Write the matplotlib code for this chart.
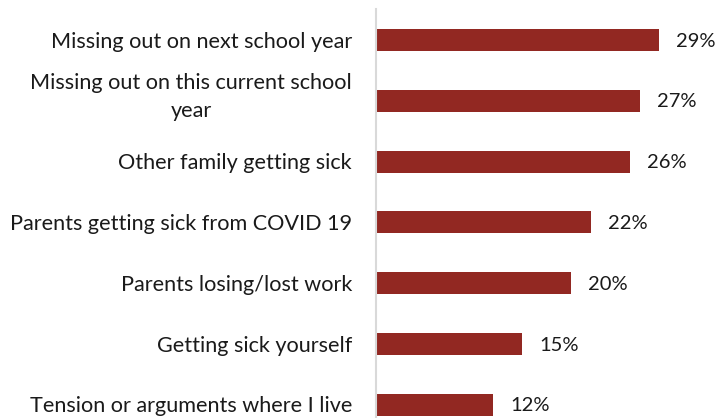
import matplotlib
matplotlib.use("Agg")
import matplotlib.pyplot as plt

categories = [
    "Missing out on next school year",
    "Missing out on this current school\nyear",
    "Other family getting sick",
    "Parents getting sick from COVID 19",
    "Parents losing/lost work",
    "Getting sick yourself",
    "Tension or arguments where I live",
]
values = [29, 27, 26, 22, 20, 15, 12]
value_labels = ["29%", "27%", "26%", "22%", "20%", "15%", "12%"]

plt.rcParams['font.family'] = ['Lato', 'DejaVu Sans']
W, H = 723, 418
fig = plt.figure(figsize=(W / 100, H / 100), dpi=100)
left_px, right_px = 376, 723
top_px, bottom_px = 9, 418
ax = fig.add_axes([left_px / W, 1 - bottom_px / H, (right_px - left_px) / W, (bottom_px - top_px) / H])

bar_color = "#922822"
ypos = list(range(len(categories)))
ax.barh(ypos, values, height=0.36, color=bar_color)
ax.set_xlim(0, (right_px - left_px) / 9.76)
ax.set_ylim(6.217, -0.51)

fs = 15.6
for y, v, lab in zip(ypos, values, value_labels):
    ax.annotate(lab, xy=(v, y), xytext=(17, -1), textcoords="offset pixels",
                ha="left", va="center", fontsize=14.5, color="#1a1a1a")
for y, cat in zip(ypos, categories):
    dy = 4 if "\n" in cat else -1.5
    ax.annotate(cat, xy=(0, y), xytext=(-24, dy), textcoords="offset pixels",
                ha="right", va="center", multialignment="center",
                fontsize=fs, color="#1a1a1a", linespacing=1.5)

for s in ["top", "right", "bottom"]:
    ax.spines[s].set_visible(False)
ax.spines["left"].set_color("#d9d9d9")
ax.spines["left"].set_linewidth(1.5)
ax.set_xticks([])
ax.set_yticks([])
ax.patch.set_alpha(0)

fig.savefig("out.png", dpi=100)
